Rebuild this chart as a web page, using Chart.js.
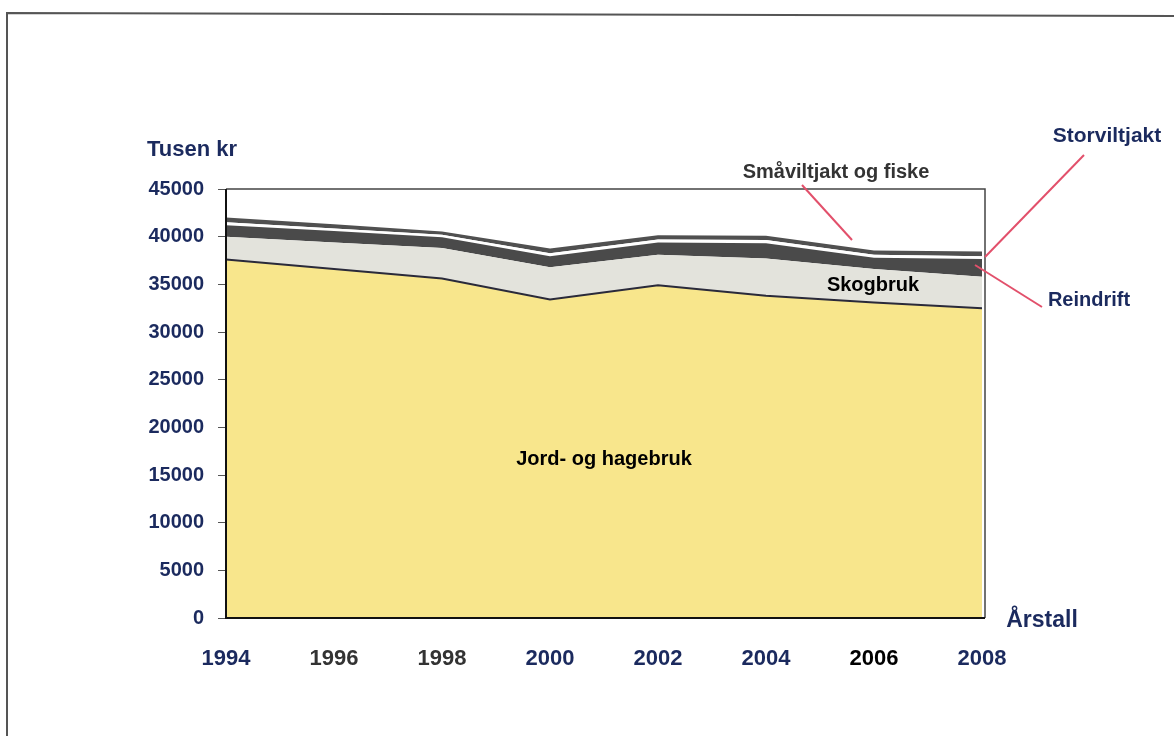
<!DOCTYPE html>
<html>
<head>
<meta charset="utf-8">
<script src="https://cdn.jsdelivr.net/npm/chart.js@4.4.1/dist/chart.umd.min.js"></script>
<style>
  html, body { margin: 0; padding: 0; background: #fff; }
  #wrap { width: 1174px; height: 736px; position: relative; }
</style>
</head>
<body>
<div id="wrap"><canvas id="area-chart" width="1174" height="736"></canvas></div>
<script>
const years = ['1994', '1996', '1998', '2000', '2002', '2004', '2006', '2008'];
const yTicks = [0, 5000, 10000, 15000, 20000, 25000, 30000, 35000, 40000, 45000];

// tusen kr, stacked bottom to top
const jordOgHagebruk = [37600, 36600, 35600, 33400, 34900, 33800, 33100, 32500];
const skogbruk       = [2400, 2800, 3200, 3400, 3200, 3900, 3500, 3300];
const reindrift      = [1200, 1200, 1150, 1150, 1300, 1600, 1200, 1850];
const storviltjakt   = [300, 250, 250, 300, 300, 350, 300, 300];
const smaviltjakt    = [500, 450, 350, 500, 450, 450, 450, 500];

const navy = '#1b2a5e';
const xTickColors = [navy, '#333333', '#333333', navy, navy, navy, '#000000', navy];

function layer(label, data, color, fill, border) {
  return {
    label: label,
    data: data,
    backgroundColor: color,
    borderColor: border || color,
    borderWidth: border ? 2 : 0,
    fill: fill,
    pointRadius: 0,
    tension: 0
  };
}

// scan frame, plot box, labels and pointer lines
const decorations = {
  id: 'decorations',
  afterDraw(chart) {
    const ctx = chart.ctx;
    const a = chart.chartArea;
    ctx.save();

    // page frame
    ctx.strokeStyle = '#555';
    ctx.lineWidth = 2;
    ctx.beginPath();
    ctx.moveTo(7, 736);
    ctx.lineTo(7, 13);
    ctx.lineTo(1174, 16);
    ctx.stroke();

    // plot box top/right
    ctx.strokeStyle = '#444';
    ctx.lineWidth = 1.5;
    ctx.beginPath();
    ctx.moveTo(a.left, a.top);
    ctx.lineTo(a.right + 3, a.top);
    ctx.lineTo(a.right + 3, a.bottom);
    ctx.stroke();

    // axis lines
    ctx.strokeStyle = '#111';
    ctx.lineWidth = 2;
    ctx.beginPath();
    ctx.moveTo(a.left, a.top);
    ctx.lineTo(a.left, a.bottom);
    ctx.lineTo(a.right + 3, a.bottom);
    ctx.stroke();

    // pointer lines
    ctx.strokeStyle = '#e2506b';
    ctx.lineWidth = 2;
    [[802, 185, 852, 240], [1084, 155, 985, 257], [1042, 307, 975, 265]].forEach(l => {
      ctx.beginPath();
      ctx.moveTo(l[0], l[1]);
      ctx.lineTo(l[2], l[3]);
      ctx.stroke();
    });

    ctx.textAlign = 'center';
    ctx.textBaseline = 'middle';
    const txt = (s, x, y, color, size) => {
      ctx.fillStyle = color;
      ctx.font = 'bold ' + size + 'px "Liberation Sans", Arial, sans-serif';
      ctx.fillText(s, x, y);
    };
    txt('Tusen kr', 192, 150, navy, 22);
    txt('Årstall', 1042, 621, navy, 23);
    txt('Jord- og hagebruk', 604, 459, '#000', 20);
    txt('Skogbruk', 873, 285, '#000', 20);
    txt('Småviltjakt og fiske', 836, 172, '#333', 20);
    txt('Storviltjakt', 1107, 136, navy, 21);
    txt('Reindrift', 1089, 300, navy, 20);
    ctx.restore();
  }
};

new Chart(document.getElementById('area-chart').getContext('2d'), {
  type: 'line',
  data: {
    labels: years,
    datasets: [
      layer('Jord- og hagebruk', jordOgHagebruk, '#f8e68c', 'origin', '#2a2a3a'),
      layer('Skogbruk', skogbruk, '#e3e3dc', '-1'),
      layer('Reindrift', reindrift, '#4a4a4a', '-1'),
      layer('Storviltjakt', storviltjakt, '#ffffff', '-1'),
      layer('Småviltjakt og fiske', smaviltjakt, '#505050', '-1')
    ]
  },
  options: {
    responsive: false,
    animation: false,
    layout: { padding: { top: 189, right: 192, left: 0, bottom: 0 } },
    plugins: { legend: { display: false }, tooltip: { enabled: false } },
    scales: {
      x: {
        offset: false,
        grid: { display: false, drawTicks: true, tickLength: 6, color: '#555' },
        border: { display: false },
        ticks: {
          color: xTickColors,
          padding: 22,
          maxRotation: 0,
          font: { family: '"Liberation Sans", Arial, sans-serif', size: 22, weight: 'bold' }
        },
        afterFit: s => { s.height = 118; }
      },
      y: {
        stacked: true,
        min: 0,
        max: 45000,
        afterBuildTicks: s => { s.ticks = yTicks.map(v => ({ value: v })); },
        grid: { drawOnChartArea: false, drawTicks: true, tickLength: 8, color: '#555' },
        border: { display: false },
        ticks: {
          color: navy,
          padding: 14,
          callback: v => String(v),
          font: { family: '"Liberation Sans", Arial, sans-serif', size: 20, weight: 'bold' }
        },
        afterFit: s => { s.width = 226; }
      }
    }
  },
  plugins: [decorations]
});
</script>
</body>
</html>
